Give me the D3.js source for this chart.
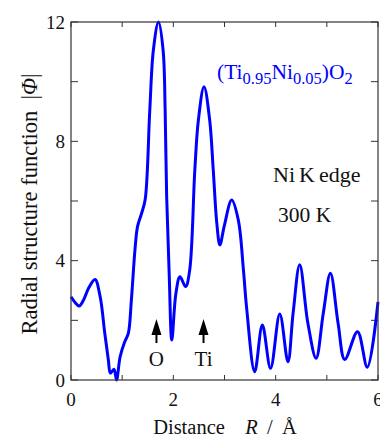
<!DOCTYPE html>
<html><head><meta charset="utf-8">
<script src="https://cdn.jsdelivr.net/npm/d3@7"></script>
<style>body{margin:0;background:#fff}svg{display:block}text{font-family:"Liberation Serif","Times New Roman",serif;fill:#111}</style>
</head><body><svg id="c" width="380" height="439"></svg>
<script>
const distanceR = [0.00,0.08,0.16,0.25,0.35,0.47,0.57,0.66,0.73,0.77,0.84,0.89,0.96,1.05,1.12,1.18,1.25,1.30,1.38,1.45,1.54,1.61,1.71,1.80,1.84,1.87,1.92,1.97,2.05,2.13,2.24,2.32,2.42,2.49,2.60,2.71,2.78,2.85,2.91,3.00,3.14,3.27,3.37,3.43,3.59,3.74,3.90,4.08,4.24,4.34,4.47,4.63,4.79,4.93,5.07,5.22,5.35,5.60,5.79,6.00];
const phiValues = [2.79,2.60,2.48,2.70,3.10,3.37,2.79,1.57,0.67,0.23,0.36,0.00,0.78,1.28,1.56,2.68,4.36,5.14,5.59,6.05,9.05,11.06,12.0,11.06,9.05,6.14,3.50,1.34,2.90,3.46,3.13,3.69,7.04,8.72,9.83,8.72,7.04,5.25,4.53,5.20,6.03,5.36,3.69,2.46,0.28,1.84,0.39,2.21,0.61,2.23,3.86,1.90,0.73,2.23,3.58,1.90,0.69,1.62,0.43,2.62];
const xMajorTicks = [0,2,4,6];
const xMinorTicks = [1,3,5];
const yMajorTicks = [0,4,8,12];
const yMinorTicks = [2,6,10];
const arrowMarks = [{r:1.67,label:"O"},{r:2.59,label:"Ti"}];

const svg = d3.select("#c");
const L=71,R=378,T=22,B=380;
const x = d3.scaleLinear().domain([0,6]).range([L,R]);
const y = d3.scaleLinear().domain([0,12]).range([B,T]);
const axisColor="#333";

const tg = svg.append("g").attr("stroke",axisColor).attr("stroke-width",1);
xMajorTicks.concat(xMinorTicks).forEach(v=>{
  tg.append("line").attr("x1",x(v)).attr("x2",x(v)).attr("y1",B).attr("y2",B-5);
  tg.append("line").attr("x1",x(v)).attr("x2",x(v)).attr("y1",T).attr("y2",T+5);
});
yMajorTicks.concat(yMinorTicks).forEach(v=>{
  tg.append("line").attr("x1",L).attr("x2",L+7).attr("y1",y(v)).attr("y2",y(v));
  tg.append("line").attr("x1",R).attr("x2",R-7).attr("y1",y(v)).attr("y2",y(v));
});

const pts = distanceR.map((r,i)=>[r,phiValues[i]]);
const line = d3.line().x(d=>x(d[0])).y(d=>y(d[1])).curve(d3.curveCatmullRom.alpha(0.5));
svg.append("path").attr("d",line(pts)).attr("fill","none").attr("stroke","#0000ff").attr("stroke-width",3).attr("stroke-linejoin","round");

svg.append("rect").attr("x",L).attr("y",T).attr("width",R-L).attr("height",B-T).attr("fill","none").attr("stroke",axisColor).attr("stroke-width",1.2);

xMajorTicks.forEach(v=>svg.append("text").attr("x",x(v)).attr("y",406).attr("text-anchor","middle").attr("font-size",19).text(v));
yMajorTicks.forEach(v=>svg.append("text").attr("x",65).attr("y",y(v)+6.5).attr("text-anchor","end").attr("font-size",19).text(v));

const xt = svg.append("text").attr("x",225).attr("y",434).attr("text-anchor","middle").attr("font-size",20.5);
xt.append("tspan").text("Distance\u2003");
xt.append("tspan").attr("font-style","italic").text("R");
xt.append("tspan").text(" \u2009/\u2009 Å");
const yt = svg.append("text").attr("transform","translate(37,204) rotate(-90)").attr("text-anchor","middle").attr("font-size",22.5);
yt.append("tspan").text("Radial structure function\u2002|");
yt.append("tspan").attr("font-style","italic").text("Φ");
yt.append("tspan").text("|");

const ct = svg.append("text").attr("x",217).attr("y",79).attr("font-size",21.5).style("fill","#0000ff");
ct.append("tspan").text("(Ti");
ct.append("tspan").attr("dy",5).attr("font-size",16.5).text("0.95");
ct.append("tspan").attr("dy",-5).text("Ni");
ct.append("tspan").attr("dy",5).attr("font-size",16.5).text("0.05");
ct.append("tspan").attr("dy",-5).text(")O");
ct.append("tspan").attr("dy",5).attr("font-size",16.5).text("2");

svg.append("text").attr("x",273).attr("y",182).attr("font-size",22).attr("word-spacing",-1.5).text("Ni K edge");
svg.append("text").attr("x",278).attr("y",222).attr("font-size",21.5).text("300 K");

arrowMarks.forEach(a=>{
  const ax=x(a.r);
  svg.append("line").attr("x1",ax).attr("x2",ax).attr("y1",332).attr("y2",343).attr("stroke","#000").attr("stroke-width",2);
  svg.append("path").attr("d",`M${ax},319 L${ax-5},335 L${ax+5},335 Z`).attr("fill","#000");
  svg.append("text").attr("x",ax).attr("y",366).attr("text-anchor","middle").attr("font-size",21).text(a.label);
});
</script></body></html>
